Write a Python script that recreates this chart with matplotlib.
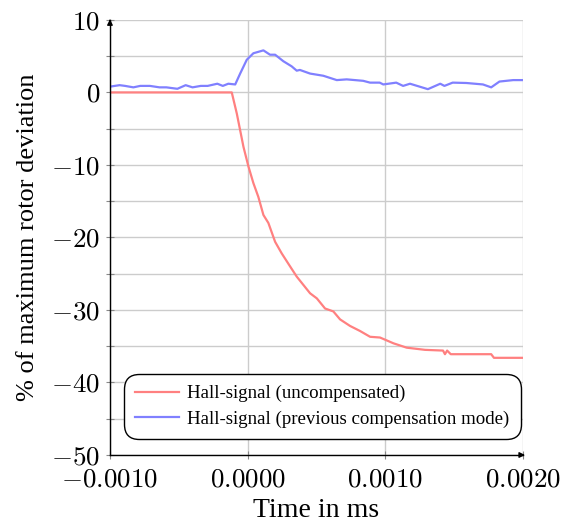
import matplotlib
matplotlib.use("Agg")
import matplotlib.pyplot as plt
from matplotlib.ticker import FuncFormatter, MultipleLocator

plt.rcParams['font.family'] = ['Liberation Serif', 'DejaVu Serif']
plt.rcParams['mathtext.fontset'] = 'cm'

# Hall-signal (uncompensated)
red_x = [-0.0010, -0.000115, -0.0000785, -0.00003, 0.000006, 0.000042, 0.000078, 0.000115,
         0.000151, 0.0002, 0.000248, 0.000309, 0.000357, 0.000454, 0.000503, 0.000563,
         0.000623, 0.000672, 0.000744, 0.000817, 0.00089, 0.000962, 0.000999, 0.00106,
         0.001156, 0.001289, 0.001420, 0.001434, 0.00145, 0.001476, 0.00177, 0.00179, 0.0020]
red_y = [0.0, 0.0, -2.9, -7.5, -10.2, -12.5, -14.4, -16.9,
         -18.0, -20.6, -22.2, -24.0, -25.4, -27.7, -28.4, -29.8,
         -30.2, -31.3, -32.2, -32.9, -33.7, -33.8, -34.1, -34.6,
         -35.2, -35.5, -35.6, -36.1, -35.6, -36.1, -36.1, -36.6, -36.6]

# Hall-signal (previous compensation mode)
blue_x = [-0.0010, -0.00093, -0.00089, -0.00083, -0.00078, -0.00071, -0.00064, -0.00059,
          -0.00051, -0.00045, -0.00040, -0.00034, -0.00029, -0.00022, -0.00018, -0.00014,
          -0.00009, -0.000054, -0.000006, 0.000042, 0.000115, 0.000163, 0.0002, 0.00026,
          0.00032, 0.000357, 0.00038, 0.000454, 0.00055, 0.000648, 0.00072, 0.00084,
          0.00089, 0.00096, 0.000986, 0.00108, 0.00113, 0.00118, 0.00131, 0.0014,
          0.00143, 0.00149, 0.00159, 0.00171, 0.00177, 0.00183, 0.00193, 0.0020]
blue_y = [0.8, 1.0, 0.9, 0.7, 0.9, 0.9, 0.7, 0.7,
          0.5, 1.0, 0.7, 0.9, 0.9, 1.2, 0.9, 1.2,
          1.1, 2.6, 4.5, 5.4, 5.8, 5.2, 5.2, 4.3,
          3.6, 3.0, 3.1, 2.6, 2.3, 1.7, 1.8, 1.6,
          1.35, 1.35, 1.1, 1.35, 0.9, 1.2, 0.45, 1.2,
          0.9, 1.35, 1.3, 1.1, 0.7, 1.5, 1.7, 1.7]

x_ticks = [-0.001, 0.0, 0.001, 0.002]

fig = plt.figure(figsize=(5.61, 5.24), dpi=100)
ax = fig.add_axes([0.196, 0.1317, 0.736, 0.8303])

ax.plot(red_x, red_y, color='#ff8080', lw=1.6, label='Hall-signal (uncompensated)')
ax.plot(blue_x, blue_y, color='#8080ff', lw=1.6, label='Hall-signal (previous compensation mode)')

ax.set_xlim(-0.001, 0.002)
ax.set_ylim(-50, 10)
ax.set_xticks(x_ticks)
ax.yaxis.set_major_locator(MultipleLocator(10))
ax.yaxis.set_minor_locator(MultipleLocator(5))
ax.xaxis.set_major_formatter(FuncFormatter(lambda v, p: f"${v:.4f}$"))
ax.yaxis.set_major_formatter(FuncFormatter(lambda v, p: f"${v:.0f}$"))

ax.grid(True, which='both', color='#cccccc', lw=1.0)
ax.set_axisbelow(True)
for s in ['top', 'right']:
    ax.spines[s].set_visible(False)
for s in ['left', 'bottom']:
    ax.spines[s].set_linewidth(1.0)
ax.tick_params(which='both', direction='inout', length=6, width=0.8, color='#888888',
               labelsize=19.5, pad=4)
ax.tick_params(axis='x', pad=6)

ax.annotate('', xy=(1.012, 0), xytext=(0.99, 0), xycoords='axes fraction',
            arrowprops=dict(arrowstyle='-|>', color='k', lw=1.0, mutation_scale=8))
ax.annotate('', xy=(0, 1.008), xytext=(0, 0.99), xycoords='axes fraction',
            arrowprops=dict(arrowstyle='-|>', color='k', lw=1.0, mutation_scale=8))

ax.set_xlabel('Time in ms', fontsize=20, labelpad=4)
ax.set_ylabel('% of maximum rotor deviation', fontsize=19, labelpad=9)

leg = ax.legend(loc='lower right', bbox_to_anchor=(0.995, 0.036), fontsize=13.6,
                frameon=True, fancybox=True, edgecolor='black', framealpha=1,
                handlelength=2.3, handletextpad=0.45, borderpad=0.6, labelspacing=0.45,
                borderaxespad=0)
leg.get_frame().set_linewidth(1.0)
leg.get_frame().set_boxstyle('round', pad=0, rounding_size=0.8)

fig.savefig('out.png', dpi=100)
